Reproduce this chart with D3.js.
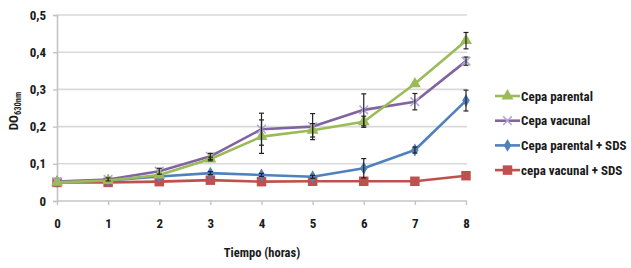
<!DOCTYPE html>
<html>
<head>
<meta charset="utf-8">
<script src="https://cdn.jsdelivr.net/npm/d3@7"></script>
<style>
    body { margin: 0; background: #fff; }
    text { font-family: "Liberation Sans Narrow", "Roboto Condensed", "Liberation Sans", sans-serif; font-weight: bold; fill: #1a1a1a; }
</style>
</head>
<body>
<svg id="chart" width="631" height="268"></svg>
<script>
/* global d3 : false */

const hours = [0, 1, 2, 3, 4, 5, 6, 7, 8];
const yTicks = [0, 0.1, 0.2, 0.3, 0.4, 0.5];

const names = ["Cepa parental", "Cepa vacunal", "Cepa parental + SDS", "cepa vacunal + SDS"];
const parental = [0.050, 0.055, 0.070, 0.113, 0.173, 0.190, 0.213, 0.315, 0.431];
const parentalErr = [0, 0, 0, 0.005, 0.045, 0.018, 0.015, 0, 0.022];
const vacunal = [0.052, 0.058, 0.080, 0.120, 0.193, 0.200, 0.245, 0.267, 0.376];
const vacunalErr = [0, 0.004, 0.008, 0.008, 0.043, 0.035, 0.043, 0.022, 0.011];
const parentalSds = [0.052, 0.055, 0.066, 0.075, 0.070, 0.065, 0.088, 0.137, 0.270];
const parentalSdsErr = [0, 0, 0, 0.004, 0.004, 0.004, 0.026, 0.008, 0.028];
const vacunalSds = [0.050, 0.050, 0.052, 0.056, 0.052, 0.053, 0.053, 0.053, 0.068];

const colors = ["#9BBB59", "#8064A2", "#4F81BD", "#C0504D"];
const markers = ["triangle", "cross", "diamond", "square"];

const series = [
    { values: parental, err: parentalErr },
    { values: vacunal, err: vacunalErr },
    { values: parentalSds, err: parentalSdsErr },
    { values: vacunalSds, err: null }
].map((s, i) => ({ ...s, name: names[i], color: colors[i], marker: markers[i] }));

const svg = d3.select("#chart");
const x = d3.scaleLinear().domain([0, 8]).range([57, 466]);
const y = d3.scaleLinear().domain([0, 0.5]).range([201, 15]);
const fmt = d => d === 0 ? "0" : d3.format(".1f")(d).replace(".", ",");

// grid
svg.append("g")
    .selectAll("line")
    .data(yTicks.slice(1))
    .join("line")
    .attr("x1", x(0)).attr("x2", x(8) + 1)
    .attr("y1", d => y(d)).attr("y2", d => y(d))
    .attr("stroke", "#d9d9d9").attr("stroke-width", 1.6);

// axes
const yAxis = svg.append("g")
    .attr("transform", `translate(${x(0)},0)`)
    .call(d3.axisLeft(y).tickValues(yTicks).tickFormat(fmt).tickSize(4).tickPadding(7));
const xAxis = svg.append("g")
    .attr("transform", `translate(0,${y(0)})`)
    .call(d3.axisBottom(x).tickValues(hours).tickSize(4).tickPadding(14));
[yAxis, xAxis].forEach(a => {
    a.select(".domain").attr("stroke", "#c4c4c4").attr("stroke-width", 1.6);
    a.selectAll(".tick line").attr("stroke", "#c4c4c4").attr("stroke-width", 1.4);
    a.selectAll(".tick text").attr("font-size", 13).attr("fill", "#1a1a1a");
});
xAxis.select(".domain").attr("d", `M${x(0)},0H${x(8) + 1}`);

// titles
svg.append("text")
    .attr("x", 262).attr("y", 257)
    .attr("text-anchor", "middle").attr("font-size", 12.5)
    .text("Tiempo (horas)");
const yt = svg.append("text")
    .attr("transform", "translate(18,111) rotate(-90)")
    .attr("text-anchor", "middle").attr("font-size", 13);
yt.append("tspan").text("DO");
yt.append("tspan").attr("font-size", 8.5).attr("dy", 3).text("630nm");

const symbolFor = m => ({
    triangle: d3.symbol(d3.symbolTriangle, 62),
    diamond: d3.symbol(d3.symbolDiamond, 48),
    square: d3.symbol(d3.symbolSquare, 90),
    cross: d3.symbol(d3.symbolTimes, 50)
})[m];

const line = d3.line().x((d, i) => x(hours[i])).y(d => y(d));

function drawMarker(sel, s, cx, cy) {
    const p = sel.append("path")
        .attr("d", symbolFor(s.marker)())
        .attr("transform", `translate(${cx},${cy})`);
    if (s.marker === "cross") {
        p.attr("fill", "none").attr("stroke", "#b4a7d6").attr("stroke-width", 1.6);
    } else {
        p.attr("fill", s.color);
    }
}

const plot = svg.append("g");
// draw back to front so red stays on top like the original
series.slice().reverse().forEach(s => {
    const g = plot.append("g");
    g.append("path")
        .datum(s.values)
        .attr("d", line)
        .attr("fill", "none")
        .attr("stroke", s.color)
        .attr("stroke-width", 2.6)
        .attr("stroke-linejoin", "round");
    s.values.forEach((v, i) => drawMarker(g, s, x(hours[i]), y(v)));
});

// error bars on top
series.forEach(s => {
    if (!s.err) return;
    const eb = plot.append("g").attr("stroke", "#222").attr("stroke-width", 1.2);
    s.values.forEach((v, i) => {
        const e = s.err[i];
        if (!e) return;
        const cx = x(hours[i]);
        eb.append("line").attr("x1", cx).attr("x2", cx).attr("y1", y(v - e)).attr("y2", y(v + e));
        [v - e, v + e].forEach(t => eb.append("line")
            .attr("x1", cx - 2.5).attr("x2", cx + 2.5).attr("y1", y(t)).attr("y2", y(t)));
    });
});

// legend
const legend = svg.append("g").attr("transform", "translate(495,96)");
series.forEach((s, i) => {
    const row = legend.append("g").attr("transform", `translate(0,${i * 24.7})`);
    row.append("line").attr("x1", 0).attr("x2", 25)
        .attr("stroke", s.color).attr("stroke-width", 2.6);
    drawMarker(row, s, 12.5, 0);
    row.append("text").attr("x", 26).attr("y", 4.5).attr("font-size", 13).text(s.name);
});
</script>
</body>
</html>
